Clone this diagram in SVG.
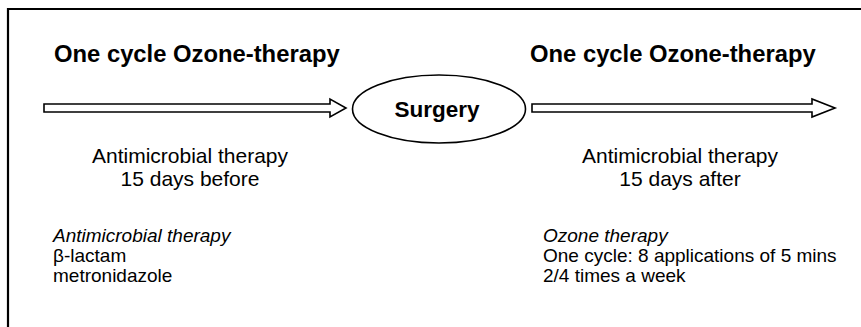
<svg xmlns="http://www.w3.org/2000/svg" width="861" height="327" viewBox="0 0 861 327">
<style>
text{font-family:"Liberation Sans",Arial,sans-serif;fill:#000}
.title{font-size:23.8px;font-weight:bold}
.surg{font-size:22.5px;font-weight:bold}
.mid{font-size:21px}
.list{font-size:19px}
.it{font-style:italic}
.arrow{fill:#fff;stroke:#000;stroke-width:1.6;stroke-linejoin:miter}
</style>
<rect width="861" height="327" fill="#fff"/>
<path d="M8,327 V9 H861" fill="none" stroke="#000" stroke-width="2.2"/>
<g id="left-title"><text class="title" x="54" y="62">One cycle Ozone-therapy</text></g>
<g id="right-title"><text class="title" x="530" y="62">One cycle Ozone-therapy</text></g>
<g id="connectors">
<path class="arrow" d="M44,104 H330 V99 L346,108 L330,117 V112 H44 Z"/>
<path class="arrow" d="M532,104 H812 V99 L835,108 L812,117 V112 H532 Z"/>
</g>
<g id="surgery">
<ellipse cx="439" cy="109" rx="86.5" ry="34" fill="#fff" stroke="#000" stroke-width="1.6"/>
<text class="surg" x="437" y="117" text-anchor="middle">Surgery</text>
</g>
<g id="before">
<text class="mid" x="190" y="163" text-anchor="middle">Antimicrobial therapy</text>
<text class="mid" x="190" y="186" text-anchor="middle">15 days before</text>
</g>
<g id="after">
<text class="mid" x="680" y="163" text-anchor="middle">Antimicrobial therapy</text>
<text class="mid" x="680" y="186" text-anchor="middle">15 days after</text>
</g>
<g id="antimicrobial-list">
<text class="list it" x="53" y="242">Antimicrobial therapy</text>
<text class="list" x="53" y="262">β-lactam</text>
<text class="list" x="53" y="282">metronidazole</text>
</g>
<g id="ozone-list">
<text class="list it" x="543" y="242">Ozone therapy</text>
<text class="list" x="543" y="262">One cycle: 8 applications of 5 mins</text>
<text class="list" x="543" y="282">2/4 times a week</text>
</g>
</svg>
